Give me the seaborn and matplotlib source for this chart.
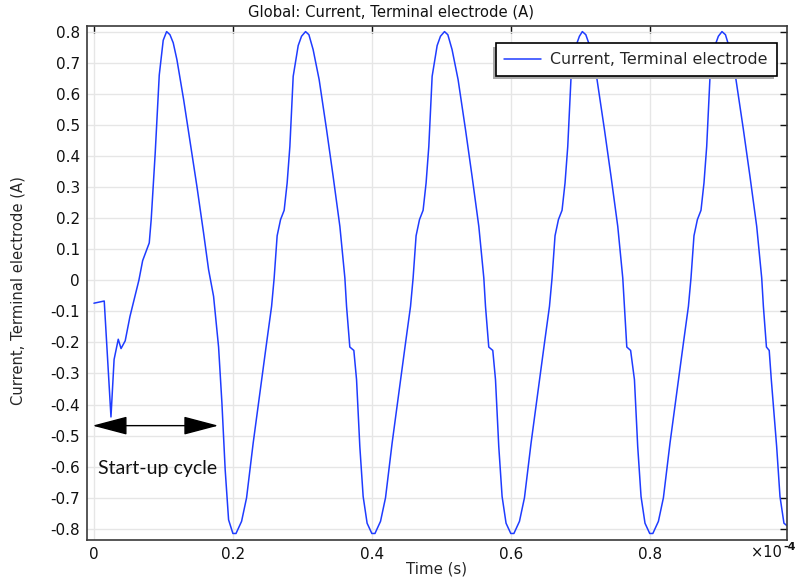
import numpy as np
import pandas as pd
import seaborn as sns
import matplotlib.pyplot as plt
from matplotlib.ticker import FixedLocator, FuncFormatter

# --- data (time in units of 1e-4 s, current in A) ---
t_startup = [0.0, 0.0148, 0.0245, 0.0290, 0.0350, 0.0390, 0.0450, 0.0518, 0.0647,
             0.0701, 0.0796, 0.0824, 0.0882, 0.0940, 0.0997, 0.1046, 0.1094, 0.1141,
             0.1194, 0.1291, 0.1386, 0.1482, 0.1578, 0.1650, 0.1722, 0.1794, 0.1842,
             0.1889, 0.1938]
i_startup = [-0.074, -0.067, -0.440, -0.255, -0.190, -0.220, -0.195, -0.117, 0.000,
             0.063, 0.120, 0.195, 0.410, 0.660, 0.772, 0.800, 0.790, 0.764,
             0.710, 0.581, 0.442, 0.302, 0.152, 0.034, -0.052, -0.215, -0.395,
             -0.610, -0.771]

t_cycle2 = [0.2000, 0.2045, 0.2125, 0.2197, 0.2292, 0.2388, 0.2485, 0.2557, 0.2594,
            0.2637, 0.2686, 0.2738, 0.2781, 0.2820, 0.2868, 0.2940, 0.2988, 0.3046,
            0.3094, 0.3155, 0.3242, 0.3348, 0.3443, 0.3540, 0.3612, 0.3636, 0.3683,
            0.3741, 0.3780, 0.3827, 0.3875, 0.3932]
t_cycle3 = [0.4000, 0.4045, 0.4125, 0.4197, 0.4292, 0.4388, 0.4485, 0.4557, 0.4594,
            0.4637, 0.4686, 0.4738, 0.4781, 0.4820, 0.4868, 0.4940, 0.4988, 0.5046,
            0.5094, 0.5155, 0.5242, 0.5348, 0.5443, 0.5540, 0.5612, 0.5636, 0.5683,
            0.5741, 0.5780, 0.5827, 0.5875, 0.5932]
t_cycle4 = [0.6000, 0.6045, 0.6125, 0.6197, 0.6292, 0.6388, 0.6485, 0.6557, 0.6594,
            0.6637, 0.6686, 0.6738, 0.6781, 0.6820, 0.6868, 0.6940, 0.6988, 0.7030,
            0.7080, 0.7155, 0.7242, 0.7348, 0.7443, 0.7540, 0.7612, 0.7636, 0.7670,
            0.7725, 0.7780, 0.7827, 0.7875, 0.7932]
t_cycle5 = [0.8000, 0.8045, 0.8125, 0.8197, 0.8292, 0.8388, 0.8485, 0.8557, 0.8594,
            0.8637, 0.8686, 0.8738, 0.8781, 0.8820, 0.8868, 0.8940, 0.8988, 0.9040,
            0.9090, 0.9155, 0.9242, 0.9348, 0.9443, 0.9540, 0.9612, 0.9636, 0.9680,
            0.9720, 0.9750, 0.9827, 0.9875, 0.9932]
i_cycle = [-0.815, -0.815, -0.776, -0.700, -0.524, -0.363, -0.202, -0.084, 0.007,
           0.143, 0.195, 0.225, 0.313, 0.430, 0.656, 0.755, 0.785, 0.800,
           0.790, 0.742, 0.645, 0.485, 0.334, 0.173, 0.007, -0.084, -0.215,
           -0.226, -0.320, -0.535, -0.696, -0.782]
t_end = [0.9976]
i_end = [-0.790]

x_ticks = [0, 0.2, 0.4, 0.6, 0.8]
y_ticks = [-0.8, -0.7, -0.6, -0.5, -0.4, -0.3, -0.2, -0.1, 0, 0.1, 0.2, 0.3, 0.4, 0.5, 0.6, 0.7, 0.8]

time = t_startup + t_cycle2 + t_cycle3 + t_cycle4 + t_cycle5 + t_end
current = i_startup + i_cycle * 4 + i_end
df = pd.DataFrame({'Time': time, 'Current': current, 'series': 'Current, Terminal electrode'})

sns.set_theme(style='white')
plt.rcParams['font.family'] = ['DejaVu Sans']
plt.rcParams['axes.unicode_minus'] = False

fig = plt.figure(figsize=(7.97, 5.84), dpi=100)
ax = fig.add_axes([87 / 797, 1 - 540 / 584, 700 / 797, 514 / 584])

sns.lineplot(data=df, x='Time', y='Current', hue='series', palette=['#1f3cff'],
             linewidth=1.1, sort=False, estimator=None, ax=ax)

ax.set_xlim(-0.01, 0.9976)
ax.set_ylim(-0.836, 0.818)
ax.xaxis.set_major_locator(FixedLocator(x_ticks))
ax.yaxis.set_major_locator(FixedLocator(y_ticks))
fmt = FuncFormatter(lambda v, p: f"{round(v, 2):g}")
ax.xaxis.set_major_formatter(fmt)
ax.yaxis.set_major_formatter(fmt)
ax.grid(True, color='#e6e6e6', linewidth=1.0)
ax.tick_params(direction='in', length=5, width=1.0, top=True, right=True,
               labelsize=11, colors='#111111', pad=5)
for s in ax.spines.values():
    s.set_color('#3a3a3a')
    s.set_linewidth(1.2)

# COMSOL centres the title over the figure, not the axes
fig.text(391 / 797, 1 - 12 / 584, 'Global: Current, Terminal electrode (A)',
         fontsize=10.6, ha='center', va='center', color='#111111')
ax.set_xlabel('Time (s)', fontsize=10.8, labelpad=0)
ax.set_ylabel('Current, Terminal electrode (A)', fontsize=10.6)
ax.yaxis.set_label_coords(-0.088, 0.485)

# axis multiplier in place of the last tick label
ax.text(0.949, -0.009, '×10', transform=ax.transAxes, fontsize=10.5,
        ha='left', va='top', color='#111111')
ax.text(0.995, -0.004, '-4', transform=ax.transAxes, fontsize=8,
        ha='left', va='top', color='#111111', fontweight='bold')

leg = ax.legend(loc='upper right', bbox_to_anchor=(0.985, 0.966), borderaxespad=0,
                fontsize=11.4, frameon=True, fancybox=False, handlelength=2.3,
                handletextpad=0.6, borderpad=0.55, framealpha=1,
                shadow={'ox': -1.8, 'oy': -2.3, 'facecolor': '#a9a9a9',
                        'edgecolor': 'none', 'alpha': 1})
leg.get_frame().set_edgecolor('black')
leg.get_frame().set_linewidth(1.2)

# start-up cycle annotation
ax.annotate('', xy=(-0.002, -0.468), xytext=(0.179, -0.468),
            arrowprops=dict(arrowstyle='<|-|>,head_length=2.2,head_width=0.58',
                            mutation_scale=10, color='black', lw=1.0,
                            shrinkA=0, shrinkB=0))
ax.text(0.006, -0.624, 'Start-up cycle', fontsize=14, family=['Lato', 'DejaVu Sans'],
        ha='left', va='baseline', color='#111111')

fig.savefig('out.png', dpi=100)
